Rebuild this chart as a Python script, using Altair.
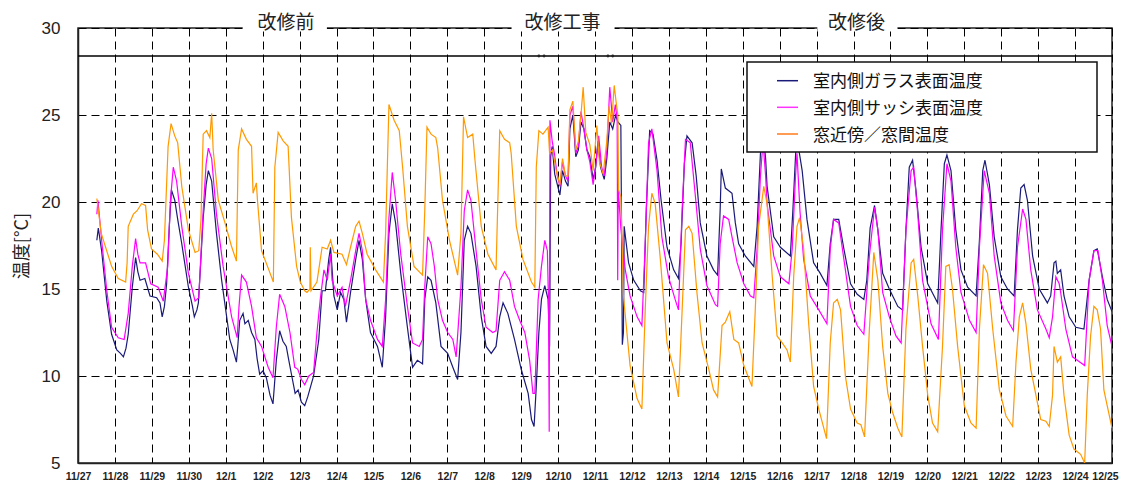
import altair as alt
import pandas as pd

# ---------------- data (time in days from 11/27 00:00) ----------------
tick_labels = ["11/27", "11/28", "11/29", "11/30"] + [f"12/{i}" for i in range(1, 26)]

series_names = ["室内側ガラス表面温度", "室内側サッシ表面温度", "窓近傍／窓間温度"]
series_colors = ["#1a1a78", "#ff00ff", "#ff9900"]
legend_colors = ["#1a1a78", "#ff33ff", "#ff7a1a"]

phase_names = ["改修前", "改修工事", "改修後"]

glass_day = [0.51, 0.55, 0.64, 0.78, 0.91, 1.05, 1.15, 1.23, 1.30, 1.36, 1.47, 1.56, 1.62, 1.68, 1.81, 1.95,
             2.13, 2.22, 2.28, 2.34, 2.40, 2.47, 2.53, 2.62, 2.70, 2.81, 2.99, 3.10, 3.15, 3.22, 3.26, 3.33,
             3.39, 3.47, 3.53, 3.62, 3.68, 3.75, 3.89, 4.00, 4.11, 4.20, 4.29, 4.33, 4.38, 4.47, 4.52, 4.61,
             4.70, 4.79, 4.85, 4.92, 5.01, 5.10, 5.20, 5.28, 5.32, 5.37, 5.46, 5.55, 5.64, 5.70, 5.78, 5.88,
             5.96, 6.05, 6.14, 6.22, 6.30, 6.38, 6.52, 6.61, 6.70, 6.79, 6.84, 6.93, 7.02, 7.11, 7.20, 7.27,
             7.38, 7.52, 7.61, 7.70, 7.79, 7.92, 8.11, 8.24, 8.33, 8.42, 8.51, 8.60, 8.74, 8.92, 9.06, 9.19,
             9.33, 9.39, 9.47, 9.56, 9.69, 9.83, 10.01, 10.15, 10.28, 10.37, 10.46, 10.55, 10.64, 10.78,
             10.92, 11.05, 11.19, 11.32, 11.42, 11.51, 11.64, 11.82, 12.00, 12.19, 12.28, 12.35, 12.41,
             12.48, 12.55, 12.64, 12.73, 12.77, 12.80, 12.84, 12.91, 12.98, 13.05, 13.12, 13.20, 13.27,
             13.32, 13.40, 13.48, 13.55, 13.62, 13.70, 13.78, 13.86, 13.95, 14.02, 14.08, 14.15, 14.25,
             14.32, 14.40, 14.48, 14.56, 14.62, 14.70, 14.74, 14.77, 14.79, 14.91, 15.05, 15.23, 15.32,
             15.39, 15.48, 15.57, 15.68, 15.79, 15.95, 16.13, 16.26, 16.33, 16.42, 16.49, 16.63, 16.74,
             16.85, 17.03, 17.21, 17.32, 17.39, 17.42, 17.53, 17.71, 17.80, 17.89, 18.07, 18.30, 18.39,
             18.48, 18.55, 18.62, 18.66, 18.84, 19.02, 19.29, 19.36, 19.45, 19.52, 19.61, 19.74, 19.92,
             20.10, 20.28, 20.37, 20.46, 20.60, 20.74, 20.92, 21.10, 21.28, 21.36, 21.45, 21.57, 21.66,
             21.79, 21.97, 22.20, 22.33, 22.42, 22.51, 22.60, 22.69, 22.83, 23.01, 23.28, 23.37, 23.46,
             23.53, 23.64, 23.77, 23.91, 24.09, 24.32, 24.41, 24.50, 24.56, 24.68, 24.81, 24.99, 25.17,
             25.35, 25.44, 25.53, 25.62, 25.71, 25.85, 26.03, 26.25, 26.34, 26.43, 26.48, 26.52, 26.61,
             26.70, 26.84, 27.02, 27.24, 27.38, 27.51, 27.60, 27.74, 27.87, 28.00]
glass_temp = [17.8, 18.5, 17.2, 14.3, 12.4, 11.5, 11.3, 11.1, 11.6, 12.4, 15.1, 16.8, 16.0, 15.5, 15.6, 14.6,
              14.5, 14.2, 13.4, 14.0, 15.3, 18.5, 20.7, 20.1, 19.0, 17.6, 15.1, 14.0, 13.4, 13.8, 14.2, 16.8,
              19.1, 21.0, 21.8, 21.2, 19.8, 18.2, 15.5, 13.8, 12.1, 11.5, 10.8, 11.8, 13.2, 13.6, 13.0, 13.2,
              12.5, 12.1, 11.0, 10.1, 10.3, 9.9, 8.9, 8.4, 9.5, 10.9, 12.6, 12.0, 11.7, 11.0, 10.1, 9.0,
              9.2, 8.5, 8.3, 8.8, 9.4, 10.0, 12.1, 14.9, 14.9, 16.7, 17.4, 14.6, 13.8, 14.8, 14.4, 13.1,
              14.8, 16.7, 17.8, 16.7, 14.4, 12.5, 11.7, 10.5, 13.4, 18.2, 19.9, 18.8, 15.9, 12.8, 10.5, 10.9,
              10.7, 14.4, 15.7, 15.5, 14.2, 11.7, 11.3, 10.5, 9.8, 12.5, 17.8, 18.6, 18.2, 16.3,
              13.4, 11.7, 11.3, 11.7, 13.4, 14.2, 13.6, 12.1, 10.4, 9.0, 7.5, 7.1, 9.4,
              12.5, 14.4, 15.2, 14.4, 11.7, 22.6, 23.2, 21.6, 21.0, 20.4, 21.8, 21.2, 20.9,
              24.2, 25.0, 22.6, 23.0, 24.6, 24.2, 23.0, 22.6, 21.3, 22.0, 23.5, 22.0, 21.3,
              22.5, 24.6, 24.2, 25.0, 24.6, 24.4, 11.8, 12.5, 18.6, 16.5, 15.5, 14.9, 14.8,
              19.6, 24.1, 23.9, 22.4, 20.1, 17.4, 16.1, 15.6, 17.6, 22.2, 23.8, 23.4, 21.5,
              18.8, 16.9, 16.1, 15.8, 19.6, 21.9, 20.8, 20.5, 18.8, 17.6, 16.9, 16.3, 18.6,
              22.8, 24.0, 22.5, 20.9, 18.0, 17.4, 16.9, 19.6, 23.5, 23.0, 21.8, 19.0, 16.5,
              15.9, 15.2, 17.6, 19.0, 19.0, 17.3, 15.3, 14.7, 14.4, 15.5, 18.5, 19.8, 18.4,
              15.9, 15.0, 14.0, 13.8, 18.4, 22.0, 22.4, 20.7, 17.4, 15.3, 14.2, 18.4, 22.2,
              22.7, 21.8, 18.4, 16.1, 15.1, 14.6, 17.8, 21.8, 22.4, 21.0, 18.0, 15.7, 15.0,
              14.6, 18.4, 20.8, 21.0, 20.1, 16.9, 15.0, 14.2, 14.6, 16.5, 16.6, 15.9, 16.1,
              14.6, 13.4, 12.8, 12.7, 15.5, 17.2, 17.3, 15.7, 14.4, 13.7]

sash_day = [0.51, 0.54, 0.64, 0.78, 0.91, 1.09, 1.25, 1.36, 1.47, 1.56, 1.62, 1.68, 1.83, 1.97, 2.17, 2.31,
            2.43, 2.50, 2.58, 2.67, 2.81, 2.99, 3.17, 3.27, 3.39, 3.47, 3.53, 3.62, 3.75, 3.93, 4.16, 4.31,
            4.36, 4.43, 4.56, 4.70, 4.83, 4.97, 5.15, 5.28, 5.37, 5.46, 5.60, 5.74, 5.87, 5.95, 6.05, 6.14,
            6.25, 6.38, 6.47, 6.56, 6.66, 6.75, 6.84, 6.88, 7.02, 7.15, 7.24, 7.38, 7.52, 7.61, 7.70, 7.79,
            7.92, 8.11, 8.24, 8.33, 8.42, 8.51, 8.60, 8.74, 8.92, 9.06, 9.24, 9.33, 9.39, 9.47, 9.56, 9.65,
            9.74, 9.87, 10.01, 10.15, 10.24, 10.37, 10.46, 10.55, 10.64, 10.78, 10.92, 11.05, 11.23, 11.32,
            11.42, 11.55, 11.69, 11.82, 11.96, 12.10, 12.23, 12.32, 12.37, 12.46, 12.55, 12.64, 12.71,
            12.74, 12.76, 12.78, 12.84, 12.90, 12.98, 13.05, 13.12, 13.20, 13.27, 13.32, 13.40, 13.48,
            13.55, 13.62, 13.70, 13.78, 13.86, 13.95, 14.03, 14.10, 14.18, 14.25, 14.32, 14.40, 14.48,
            14.55, 14.60, 14.615, 14.63, 14.70, 14.82, 14.95, 15.14, 15.27, 15.36, 15.45, 15.54, 15.68,
            15.81, 15.99, 16.17, 16.26, 16.36, 16.45, 16.58, 16.72, 16.85, 17.03, 17.26, 17.32, 17.39,
            17.48, 17.62, 17.71, 17.85, 18.03, 18.21, 18.30, 18.39, 18.48, 18.55, 18.62, 18.66, 18.84,
            19.02, 19.25, 19.34, 19.43, 19.47, 19.55, 19.65, 19.83, 20.06, 20.28, 20.37, 20.46, 20.60,
            20.74, 20.92, 21.10, 21.28, 21.43, 21.57, 21.66, 21.79, 21.97, 22.15, 22.29, 22.42, 22.56,
            22.63, 22.74, 22.87, 23.10, 23.30, 23.41, 23.53, 23.64, 23.77, 23.91, 24.14, 24.32, 24.41,
            24.54, 24.68, 24.81, 24.99, 25.17, 25.33, 25.44, 25.58, 25.67, 25.80, 25.98, 26.21, 26.30,
            26.39, 26.48, 26.57, 26.61, 26.75, 26.93, 27.06, 27.26, 27.38, 27.51, 27.62, 27.74, 27.87,
            28.00]
sash_temp = [19.3, 20.1, 17.8, 14.9, 12.8, 12.2, 12.1, 13.6, 16.3, 17.9, 17.0, 16.5, 16.5, 15.3, 15.1, 14.3,
             16.3, 20.0, 22.0, 21.2, 18.6, 15.9, 14.3, 14.5, 19.5, 22.2, 23.1, 22.5, 19.3, 16.3, 13.4, 12.2,
             14.0, 15.8, 15.4, 14.0, 12.2, 11.7, 10.5, 9.9, 12.8, 14.7, 14.0, 12.5, 10.5, 10.4, 9.8, 9.5,
             10.0, 10.2, 12.5, 14.4, 16.1, 15.5, 17.0, 15.5, 14.6, 15.1, 14.0, 15.5, 17.2, 18.2, 17.2, 14.4,
             13.2, 12.1, 11.7, 14.4, 19.1, 21.7, 20.1, 17.0, 14.0, 11.9, 11.7, 12.1, 15.1, 18.0, 17.6, 16.3,
             14.4, 13.2, 12.5, 12.1, 11.1, 15.1, 19.5, 20.7, 20.1, 17.2, 14.4, 12.8, 12.5, 12.6,
             15.5, 16.0, 15.5, 14.0, 13.2, 12.5, 10.9, 9.0, 9.0, 14.4, 16.3, 17.8, 17.2,
             14.4, 6.8, 24.7, 23.5, 22.8, 21.5, 20.9, 22.3, 21.5, 21.2, 25.0, 25.5, 22.8,
             23.2, 25.2, 24.2, 23.0, 22.3, 21.0, 22.3, 23.8, 22.0, 21.5, 23.0, 26.6, 24.6,
             25.6, 24.8, 15.5, 20.7, 18.5, 16.1, 14.6, 13.4, 12.9, 17.6, 23.4, 24.2, 21.8,
             18.0, 15.7, 14.4, 13.8, 19.6, 23.6, 23.4, 20.3, 17.3, 15.2, 14.1, 14.0, 17.6,
             19.2, 19.0, 18.0, 16.5, 15.3, 14.6, 14.5, 17.3, 21.5, 23.5, 21.5, 19.9, 16.9,
             15.7, 15.3, 17.3, 21.5, 22.8, 19.5, 16.7, 14.6, 13.8, 13.0, 17.3, 19.0, 18.8,
             16.7, 14.0, 12.9, 12.4, 16.9, 19.7, 18.4, 14.8, 13.4, 12.3, 11.9, 18.4, 21.8,
             22.0, 19.3, 15.5, 13.0, 12.1, 18.4, 22.2, 21.2, 17.4, 14.8, 13.2, 12.5, 17.4,
             21.8, 20.5, 16.9, 14.2, 13.2, 12.6, 17.4, 19.6, 19.0, 16.1, 13.8, 12.7, 12.2,
             13.4, 15.7, 15.3, 14.8, 12.7, 11.1, 10.9, 10.6, 15.5, 17.2, 17.2, 15.5, 12.9,
             11.7]

window_day = [0.51, 0.63, 0.91, 1.09, 1.29, 1.33, 1.36, 1.50, 1.60, 1.72, 1.83, 1.885, 1.99, 2.15, 2.28, 2.34,
              2.44, 2.52, 2.62, 2.70, 2.81, 2.99, 3.17, 3.27, 3.33, 3.39, 3.48, 3.57, 3.62, 3.66, 3.80, 3.98,
              4.15, 4.29, 4.34, 4.43, 4.56, 4.70, 4.74, 4.83, 4.86, 4.97, 5.15, 5.29, 5.33, 5.42, 5.56, 5.69,
              5.78, 5.92, 6.02, 6.14, 6.20, 6.28, 6.29, 6.31, 6.47, 6.61, 6.75, 6.84, 6.93, 7.15, 7.27, 7.38,
              7.52, 7.61, 7.70, 7.83, 8.06, 8.27, 8.33, 8.42, 8.56, 8.70, 8.79, 8.92, 9.10, 9.33, 9.39, 9.45,
              9.56, 9.69, 9.74, 9.87, 10.06, 10.28, 10.37, 10.44, 10.55, 10.69, 10.75, 10.92, 11.10, 11.32,
              11.42, 11.55, 11.69, 11.73, 11.87, 12.05, 12.28, 12.37, 12.41, 12.48, 12.59, 12.73, 12.77,
              12.85, 12.95, 13.05, 13.12, 13.20, 13.27, 13.32, 13.40, 13.48, 13.55, 13.62, 13.68, 13.75,
              13.86, 13.95, 14.05, 14.12, 14.22, 14.32, 14.38, 14.45, 14.52, 14.58, 14.62, 14.64, 14.70,
              14.77, 14.95, 15.14, 15.27, 15.36, 15.45, 15.54, 15.63, 15.77, 15.95, 16.13, 16.26, 16.36,
              16.45, 16.54, 16.63, 16.76, 16.90, 17.08, 17.21, 17.32, 17.44, 17.53, 17.65, 17.76, 17.89,
              18.03, 18.25, 18.34, 18.43, 18.57, 18.66, 18.80, 18.93, 19.07, 19.20, 19.29, 19.38, 19.47,
              19.54, 19.65, 19.79, 19.92, 20.06, 20.27, 20.37, 20.46, 20.56, 20.65, 20.78, 20.92, 21.10,
              21.20, 21.30, 21.43, 21.55, 21.66, 21.79, 21.93, 22.06, 22.20, 22.31, 22.42, 22.56, 22.63,
              22.74, 22.87, 23.01, 23.14, 23.28, 23.41, 23.50, 23.59, 23.68, 23.82, 24.00, 24.18, 24.32,
              24.41, 24.52, 24.63, 24.77, 24.95, 25.13, 25.31, 25.40, 25.49, 25.58, 25.67, 25.80, 25.94,
              26.07, 26.21, 26.30, 26.39, 26.43, 26.52, 26.61, 26.70, 26.84, 26.97, 27.15, 27.26, 27.33,
              27.42, 27.51, 27.60, 27.69, 27.78, 27.87, 28.00]
window_temp = [20.2, 18.2, 16.3, 15.6, 15.4, 16.5, 18.6, 19.3, 19.5, 19.9, 19.8, 18.4, 17.3, 17.0, 16.6, 17.8,
               23.2, 24.5, 23.8, 23.4, 20.9, 18.4, 17.1, 17.2, 19.0, 23.9, 24.1, 23.7, 25.1, 23.0, 20.1, 18.8,
               17.5, 16.6, 23.0, 24.2, 23.6, 23.2, 20.5, 21.1, 20.1, 17.2, 16.2, 15.4, 22.0, 24.0, 23.5, 23.2,
               19.1, 16.3, 15.4, 14.9, 14.8, 15.0, 17.4, 14.9, 15.4, 17.4, 17.3, 17.8, 17.1, 17.0, 16.4, 17.4,
               18.6, 18.9, 18.2, 17.0, 16.1, 15.4, 18.2, 25.6, 24.7, 24.1, 22.0, 18.6, 16.3, 15.8, 19.5, 24.3,
               23.9, 23.7, 23.1, 20.1, 17.8, 15.8, 18.2, 24.9, 23.7, 23.9, 22.4, 18.6, 17.0, 16.1,
               24.1, 23.6, 23.4, 22.8, 18.6, 16.7, 15.4, 15.1, 22.0, 24.1, 23.9, 24.3, 22.8,
               23.0, 21.8, 21.0, 22.5, 21.5, 21.5, 25.3, 25.8, 23.0, 23.5, 25.0, 26.6, 24.0,
               23.3, 21.8, 24.4, 22.3, 21.6, 23.5, 25.5, 24.5, 26.7, 25.6, 25.0, 20.7, 20.3,
               14.6, 10.6, 8.7, 8.1, 13.8, 18.6, 20.5, 19.9, 16.7, 11.9, 10.4, 8.8, 13.8,
               18.4, 18.6, 18.2, 14.8, 11.9, 10.4, 9.2, 8.8, 12.9, 13.1, 13.7, 12.1, 11.9,
               10.6, 9.4, 13.8, 18.6, 20.9, 19.9, 15.7, 12.3, 11.9, 11.5, 10.8, 15.7, 18.6,
               19.1, 17.3, 12.9, 9.4, 8.1, 6.4, 11.9, 14.2, 14.4, 13.8, 10.0, 8.1, 7.3,
               7.2, 6.5, 12.7, 17.1, 15.5, 11.7, 9.0, 7.9, 7.0, 6.5, 12.7, 16.5, 16.7,
               14.6, 11.7, 8.9, 7.3, 6.8, 11.7, 16.3, 16.4, 15.0, 11.7, 8.3, 7.3, 7.0,
               12.7, 16.4, 15.9, 12.7, 9.2, 7.7, 7.1, 10.8, 13.4, 14.2, 13.0, 10.4, 8.9,
               7.5, 7.4, 7.1, 8.9, 11.7, 10.8, 11.1, 8.9, 6.6, 5.8, 5.5, 5.0, 8.9,
               12.3, 14.0, 13.8, 12.7, 9.2, 8.3, 7.0]

# ---------------- build table ----------------
rows = []
for name, ds, vs in zip(series_names, [glass_day, sash_day, window_day], [glass_temp, sash_temp, window_temp]):
    for d, v in zip(ds, vs):
        rows.append({"series": name, "day": d, "temp": v})
df = pd.DataFrame(rows)

label_expr = "[" + ",".join(f"'{t}'" for t in tick_labels) + "][round(datum.value)]"

x_scale = alt.Scale(domain=[0, 28], nice=False, zero=False)
y_scale = alt.Scale(domain=[5, 30], nice=False, zero=False)

x_axis = alt.Axis(values=list(range(29)), labelExpr=label_expr, grid=True, gridDash=[8, 5],
                  gridColor="#000", gridWidth=1, gridOpacity=1, ticks=False, domain=True,
                  domainColor="#222", domainWidth=1.5, labelFont="Liberation Sans", labelFontSize=10.5,
                  labelFontWeight="bold", labelColor="#222", labelPadding=8, labelFlush=False,
                  labelOverlap=False, labelBound=False,
                  labelOffset={"condition": {"test": "datum.value >= 28", "value": -7}, "value": 0},
                  title=None)
y_axis = alt.Axis(values=[5, 10, 15, 20, 25, 30], grid=True, gridDash=[8, 5], gridColor="#000",
                  gridWidth=1, gridOpacity=1, ticks=False, domain=True, domainColor="#222",
                  domainWidth=1.5, labelFont="Liberation Sans", labelFontSize=17, labelColor="#222",
                  labelPadding=18, labelOverlap=False, title="温度[°C]", titleFont="Noto Sans CJK JP",
                  titleFontSize=18, titleFontWeight="normal", titleColor="#222", titleX=-56, titleY=217.5,
                  titleAngle=270, titleAlign="center", titleBaseline="middle")


def xq(f):
    return alt.X(f, type="quantitative", scale=x_scale, axis=x_axis)


def yq(f):
    return alt.Y(f, type="quantitative", scale=y_scale, axis=y_axis)


lines = alt.Chart(df).mark_line(strokeWidth=1.2, clip=True).encode(
    x=xq("day"),
    y=yq("temp"),
    color=alt.Color("series:N", scale=alt.Scale(domain=series_names, range=series_colors), legend=None),
    order=alt.Order("day:Q"),
)

# phase header decorations
header_level = 28.39
phase_line = alt.Chart(pd.DataFrame({"day": [0], "day2": [28], "temp": [header_level]})).mark_rule(
    color="#000", strokeWidth=1.4).encode(x=xq("day"), x2="day2:Q", y=yq("temp"))

marker_days = [12.48, 12.62, 14.35, 14.48]
markers = alt.Chart(pd.DataFrame({"day": marker_days, "temp": [header_level] * 4})).mark_point(
    shape="circle", size=8, filled=True, color="#222", opacity=1).encode(x=xq("day"), y=yq("temp"))

phase_center = [5.63, 13.12, 21.08]
phase_mask_from = [4.46, 11.74, 20.02]
phase_mask_to = [6.74, 14.53, 22.19]
phase_df = pd.DataFrame({"phase": phase_names, "day": phase_center, "m1": phase_mask_from,
                         "m2": phase_mask_to, "temp": [30.29] * 3, "top": [30.7] * 3, "bot": [29.8] * 3})
masks = alt.Chart(phase_df).mark_rect(color="white").encode(
    x=xq("m1"), x2="m2:Q", y=yq("top"), y2="bot:Q")
phase_text = alt.Chart(phase_df).mark_text(font="Noto Sans CJK JP", fontSize=19, color="#222",
                                           baseline="middle", align="center").encode(
    x=xq("day"), y=yq("temp"), text="phase:N")

# manual legend box
one = pd.DataFrame({"a": [0]})
legend_box = alt.Chart(one).mark_rect(fill="white", stroke="#111", strokeWidth=1.5).encode(
    x=alt.value(669), x2=alt.value(1019), y=alt.value(34), y2=alt.value(124))
legend_layers = [legend_box]
row_y = [52.7, 79.3, 106.0]
for name, col, yy in zip(series_names, legend_colors, row_y):
    legend_layers.append(alt.Chart(one).mark_rule(color=col, strokeWidth=1.5).encode(
        x=alt.value(699), x2=alt.value(720), y=alt.value(yy)))
    legend_layers.append(alt.Chart(one).mark_text(font="Noto Sans CJK JP", fontSize=17, color="#111",
                                                  align="left", baseline="middle").encode(
        x=alt.value(735), y=alt.value(yy + 1.5), text=alt.value(name)))

chart = alt.layer(lines, phase_line, markers, masks, phase_text, *legend_layers).properties(
    width=1034, height=435,
    background="white",
    autosize=alt.AutoSizeParams(type="none"),
    padding={"left": 70, "top": 20, "right": 8, "bottom": 21},
).configure_view(stroke="#222", strokeWidth=1.5)

chart.save("out.html", embed_options={"renderer": "svg", "actions": False})
